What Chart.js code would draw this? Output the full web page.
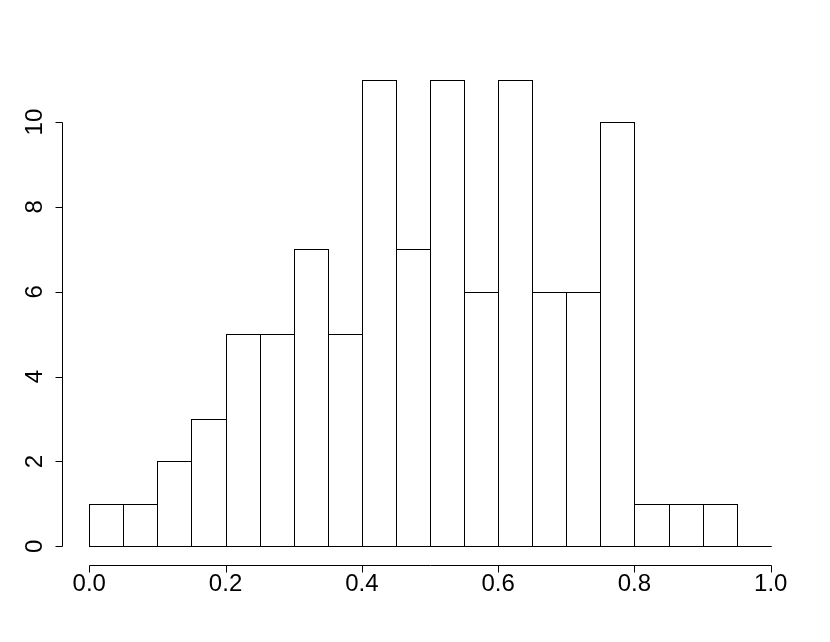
<!DOCTYPE html>
<html>
<head>
<meta charset="utf-8">
<script src="https://cdn.jsdelivr.net/npm/chart.js@4/dist/chart.umd.min.js"></script>
<style>
  html, body { margin: 0; padding: 0; background: #fff; }
  #wrap { width: 830px; height: 642px; }
</style>
</head>
<body>
<div id="wrap"><canvas id="hist" width="830" height="642"></canvas></div>
<script>
// histogram bins: left edges, width 0.05
const binStarts = [0.00, 0.05, 0.10, 0.15, 0.20, 0.25, 0.30, 0.35, 0.40, 0.45,
                   0.50, 0.55, 0.60, 0.65, 0.70, 0.75, 0.80, 0.85, 0.90, 0.95];
const counts    = [1, 1, 2, 3, 5, 5, 7, 5, 11, 7, 11, 6, 11, 6, 6, 10, 1, 1, 1, 0];
const binWidth  = 0.05;

const xTicks = [0, 0.2, 0.4, 0.6, 0.8, 1.0];
const xTickLabels = ['0.0', '0.2', '0.4', '0.6', '0.8', '1.0'];
const yTicks = [0, 2, 4, 6, 8, 10];
const yTickLabels = ['0', '2', '4', '6', '8', '10'];

const FONT = "24px 'Liberation Sans', Arial, sans-serif";

// R-style bar outlines, drawn at the bar elements' own positions
const barOutline = {
  id: 'barOutline',
  afterDatasetsDraw(chart) {
    const ctx = chart.ctx;
    const meta = chart.getDatasetMeta(0);
    ctx.save();
    ctx.strokeStyle = '#000';
    ctx.lineWidth = 1;
    meta.data.forEach(bar => {
      const { x, y, base, width } = bar.getProps(['x', 'y', 'base', 'width'], true);
      const l = Math.round(x - width / 2) + 0.5;
      const r = Math.round(x + width / 2) + 0.5;
      const t = Math.round(y) + 0.5;
      const b = Math.round(base) + 0.5;
      ctx.strokeRect(l, t, r - l, b - t);
    });
    ctx.restore();
  }
};

// R-style detached axes
const rAxes = {
  id: 'rAxes',
  afterDraw(chart) {
    const ctx = chart.ctx;
    const { left, bottom } = chart.chartArea;
    const xs = chart.scales.x;
    const ys = chart.scales.y;
    const tick = 7;
    ctx.save();
    ctx.strokeStyle = '#000';
    ctx.fillStyle = '#000';
    ctx.lineWidth = 1;
    ctx.font = FONT;

    // x axis
    const ax = Math.round(bottom) + 0.5;
    const x0 = Math.round(xs.getPixelForValue(xTicks[0])) + 0.5;
    const x1 = Math.round(xs.getPixelForValue(xTicks[xTicks.length - 1])) + 0.5;
    ctx.beginPath();
    ctx.moveTo(x0, ax); ctx.lineTo(x1, ax);
    xTicks.forEach(v => {
      const px = Math.round(xs.getPixelForValue(v)) + 0.5;
      ctx.moveTo(px, ax); ctx.lineTo(px, ax + tick);
    });
    ctx.stroke();
    ctx.textAlign = 'center';
    ctx.textBaseline = 'middle';
    xTicks.forEach((v, i) => {
      ctx.fillText(xTickLabels[i], xs.getPixelForValue(v), ax + 19);
    });

    // y axis
    const ay = Math.round(left) + 0.5;
    const y0 = Math.round(ys.getPixelForValue(yTicks[0])) + 0.5;
    const y1 = Math.round(ys.getPixelForValue(yTicks[yTicks.length - 1])) + 0.5;
    ctx.beginPath();
    ctx.moveTo(ay, y0); ctx.lineTo(ay, y1);
    yTicks.forEach(v => {
      const py = Math.round(ys.getPixelForValue(v)) + 0.5;
      ctx.moveTo(ay, py); ctx.lineTo(ay - tick, py);
    });
    ctx.stroke();
    yTicks.forEach((v, i) => {
      ctx.save();
      ctx.translate(ay - 27, ys.getPixelForValue(v));
      ctx.rotate(-Math.PI / 2);
      ctx.fillText(yTickLabels[i], 0, 0);
      ctx.restore();
    });
    ctx.restore();
  }
};

new Chart(document.getElementById('hist').getContext('2d'), {
  type: 'bar',
  data: {
    datasets: [{
      data: binStarts.map((s, i) => ({ x: s + binWidth / 2, y: counts[i] })),
      backgroundColor: '#fff',
      borderWidth: 0,
      barPercentage: 1,
      categoryPercentage: 1,
    }],
  },
  options: {
    responsive: false,
    animation: false,
    layout: { padding: { left: 62, right: 32, top: 61, bottom: 77 } },
    plugins: { legend: { display: false }, tooltip: { enabled: false } },
    scales: {
      x: { type: 'linear', min: -0.04, max: 1.04, offset: false, display: false },
      y: { min: -0.44, max: 11.44, display: false },
    },
  },
  plugins: [barOutline, rAxes],
});
</script>
</body>
</html>
